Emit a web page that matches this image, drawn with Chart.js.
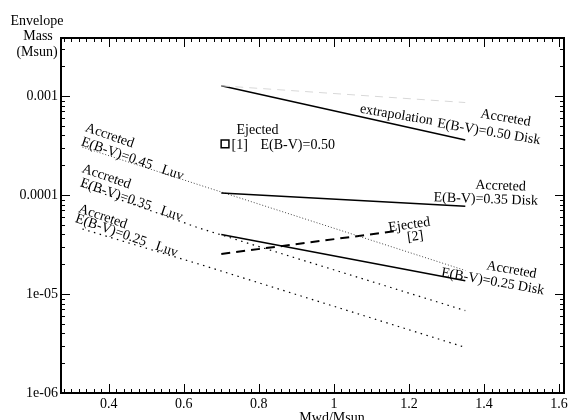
<!DOCTYPE html>
<html>
<head>
<meta charset="utf-8">
<script src="https://cdn.jsdelivr.net/npm/chart.js@4.4.0/dist/chart.umd.min.js"></script>
<style>
  html, body { margin: 0; padding: 0; background: #fff; }
  #wrap { width: 571px; height: 420px; }
</style>
</head>
<body>
<div id="wrap"><canvas id="chart"></canvas></div>
<script>
// axis ticks
const xTickValues = [0.4, 0.6, 0.8, 1, 1.2, 1.4, 1.6];
const xTickLabels = ["0.4", "0.6", "0.8", "1", "1.2", "1.4", "1.6"];
const yTickValues = [1e-6, 1e-5, 1e-4, 1e-3];
const yTickLabels = ["1e-06", "1e-05", "0.0001", "0.001"];

// accreted disk models (solid)
const diskMwd = [0.7, 1.35];
const disk50Env = [1.27e-3, 3.6e-4];
const disk35Env = [1.05e-4, 7.7e-5];
const disk25Env = [4.0e-5, 1.36e-5];
// extrapolation (light dashed)
const extrapEnv = [1.27e-3, 8.6e-4];

// accreted Luv models (dotted)
const luvMwd = [0.33, 0.64, 1.35];
const luv45Env = [3.05e-4, 1.27e-4, 1.73e-5];
const luv35Env = [1.23e-4, 4.65e-5, 6.8e-6];
const luv25Env = [4.54e-5, 2.01e-5, 2.89e-6];

// ejected
const ejected1Mwd = [0.71];
const ejected1Env = [3.28e-4];
const ejected2Mwd = [0.7, 1.17];
const ejected2Env = [2.54e-5, 4.35e-5];

const FONT = "Liberation Serif";

function pts(xs, ys) {
  return xs.map((x, i) => ({ x: x, y: ys[i] }));
}

// text labels placed at data coordinates
const notes = [
  { text: "Ejected", x: 0.7965, y: 4.535e-4, angle: 0 },
  { text: "[1]", x: 0.749, y: 3.2e-4, angle: 0 },
  { text: "E(B-V)=0.50", x: 0.9036, y: 3.2e-4, angle: 0 },
  { text: "extrapolation", x: 1.1666, y: 6.43e-4, angle: 9.5 },
  { text: "E(B-V)=0.50 Disk", x: 1.4124, y: 4.33e-4, angle: 9.5 },
  { text: "Accreted", x: 1.4574, y: 5.99e-4, angle: 9.5 },
  { text: "Accreted", x: 1.4441, y: 1.233e-4, angle: 2 },
  { text: "E(B-V)=0.35 Disk", x: 1.4045, y: 9.05e-5, angle: 2 },
  { text: "Ejected", x: 1.201, y: 4.98e-5, angle: -8 },
  { text: "[2]", x: 1.2168, y: 3.79e-5, angle: -8 },
  { text: "Accreted", x: 1.4732, y: 1.75e-5, angle: 10 },
  { text: "E(B-V)=0.25 Disk", x: 1.423, y: 1.33e-5, angle: 10 },
  { text: "Accreted", x: 0.4026, y: 3.97e-4, angle: 19 },
  { text: "E(B-V)=0.45   Luv", x: 0.4634, y: 2.31e-4, angle: 19 },
  { text: "Accreted", x: 0.3939, y: 1.53e-4, angle: 19 },
  { text: "E(B-V)=0.35   Luv", x: 0.4608, y: 8.9e-5, angle: 19 },
  { text: "Accreted", x: 0.3841, y: 6.04e-5, angle: 19 },
  { text: "E(B-V)=0.25   Luv", x: 0.4476, y: 3.88e-5, angle: 19 },
];

// inward tick marks, frame, titles and notes
const decorPlugin = {
  id: "decor",
  afterDraw(chart) {
    const ctx = chart.ctx;
    const a = chart.chartArea;
    const xs = chart.scales.x;
    const ys = chart.scales.y;
    ctx.save();
    ctx.strokeStyle = "#000";

    // x ticks (bottom + top)
    ctx.lineWidth = 1;
    for (let i = 14; i <= 80; i++) {
      const v = i * 0.02;
      const px = Math.round(xs.getPixelForValue(v)) + 0.5;
      if (px < a.left || px > a.right) continue;
      const len = i % 10 === 0 ? 9 : 4;
      ctx.beginPath();
      ctx.moveTo(px, a.bottom);
      ctx.lineTo(px, a.bottom - len);
      ctx.moveTo(px, a.top);
      ctx.lineTo(px, a.top + len);
      ctx.stroke();
    }
    // y ticks (left + right)
    for (let e = -6; e <= -3; e++) {
      for (let m = 1; m <= 9; m++) {
        const v = m * Math.pow(10, e);
        if (v < ys.min || v > ys.max) continue;
        const py = Math.round(ys.getPixelForValue(v)) + 0.5;
        const len = m === 1 ? 9 : 4;
        ctx.beginPath();
        ctx.moveTo(a.left, py);
        ctx.lineTo(a.left + len, py);
        ctx.moveTo(a.right, py);
        ctx.lineTo(a.right - len, py);
        ctx.stroke();
      }
    }
    // frame
    ctx.lineWidth = 2;
    ctx.strokeRect(a.left, a.top, a.right - a.left, a.bottom - a.top);

    // titles
    ctx.fillStyle = "#000";
    ctx.font = "14px '" + FONT + "'";
    ctx.textAlign = "center";
    ctx.textBaseline = "middle";
    ctx.fillText("Envelope", 37, 21);
    ctx.fillText("Mass", 38, 36);
    ctx.fillText("(Msun)", 37, 52);
    ctx.fillText("Mwd/Msun", 332, 418);

    // notes
    notes.forEach((n) => {
      const px = xs.getPixelForValue(n.x);
      const py = ys.getPixelForValue(n.y);
      ctx.save();
      ctx.translate(px, py);
      ctx.rotate((n.angle * Math.PI) / 180);
      ctx.fillText(n.text, 0, 0);
      ctx.restore();
    });
    ctx.restore();
  },
};

function line(data, opts) {
  return Object.assign(
    {
      data: data,
      showLine: true,
      pointRadius: 0,
      borderColor: "#000",
      borderWidth: 1.5,
      fill: false,
      tension: 0,
    },
    opts
  );
}

const ctx = document.getElementById("chart").getContext("2d");
new Chart(ctx, {
  type: "scatter",
  data: {
    datasets: [
      line(pts(diskMwd, extrapEnv), { borderColor: "#d8d8d8", borderWidth: 1, borderDash: [8, 6] }),
      line(pts(diskMwd, disk50Env), {}),
      line(pts(diskMwd, disk35Env), {}),
      line(pts(diskMwd, disk25Env), {}),
      line(pts(luvMwd, luv45Env), { borderColor: "#444", borderWidth: 1, borderDash: [1, 2] }),
      line(pts(luvMwd, luv35Env), { borderWidth: 1.2, borderDash: [1.5, 4.5] }),
      line(pts(luvMwd, luv25Env), { borderWidth: 1.2, borderDash: [1.5, 4.5] }),
      line(pts(ejected2Mwd, ejected2Env), { borderWidth: 2, borderDash: [9, 6] }),
      {
        data: pts(ejected1Mwd, ejected1Env),
        pointStyle: "rect",
        pointRadius: 5.5,
        pointBackgroundColor: "#fff",
        pointBorderColor: "#000",
        pointBorderWidth: 1.5,
        showLine: false,
      },
    ],
  },
  options: {
    responsive: true,
    maintainAspectRatio: false,
    animation: false,
    layout: { padding: { top: 38, right: 3, left: 0, bottom: 0 } },
    plugins: { legend: { display: false }, tooltip: { enabled: false } },
    scales: {
      x: {
        type: "linear",
        min: 0.273,
        max: 1.613,
        grid: { display: false, drawTicks: false },
        border: { display: false },
        afterBuildTicks: (s) => {
          s.ticks = xTickValues.map((v) => ({ value: v }));
        },
        afterFit: (s) => {
          s.height = 27;
          s.paddingLeft = 0;
          s.paddingRight = 0;
        },
        ticks: {
          padding: 3,
          maxRotation: 0,
          autoSkip: false,
          color: "#000",
          font: { family: FONT, size: 14 },
          callback: (v) => xTickLabels[xTickValues.indexOf(v)] ?? "",
        },
      },
      y: {
        type: "logarithmic",
        min: 1e-6,
        max: 3.86e-3,
        grid: { display: false, drawTicks: false },
        border: { display: false },
        afterBuildTicks: (s) => {
          s.ticks = yTickValues.map((v) => ({ value: v }));
        },
        afterFit: (s) => {
          s.width = 61;
          s.paddingTop = 0;
          s.paddingBottom = 0;
        },
        ticks: {
          padding: 3,
          autoSkip: false,
          color: "#000",
          font: { family: FONT, size: 14 },
          callback: (v) => yTickLabels[yTickValues.indexOf(v)] ?? "",
        },
      },
    },
  },
  plugins: [decorPlugin],
});
</script>
</body>
</html>
